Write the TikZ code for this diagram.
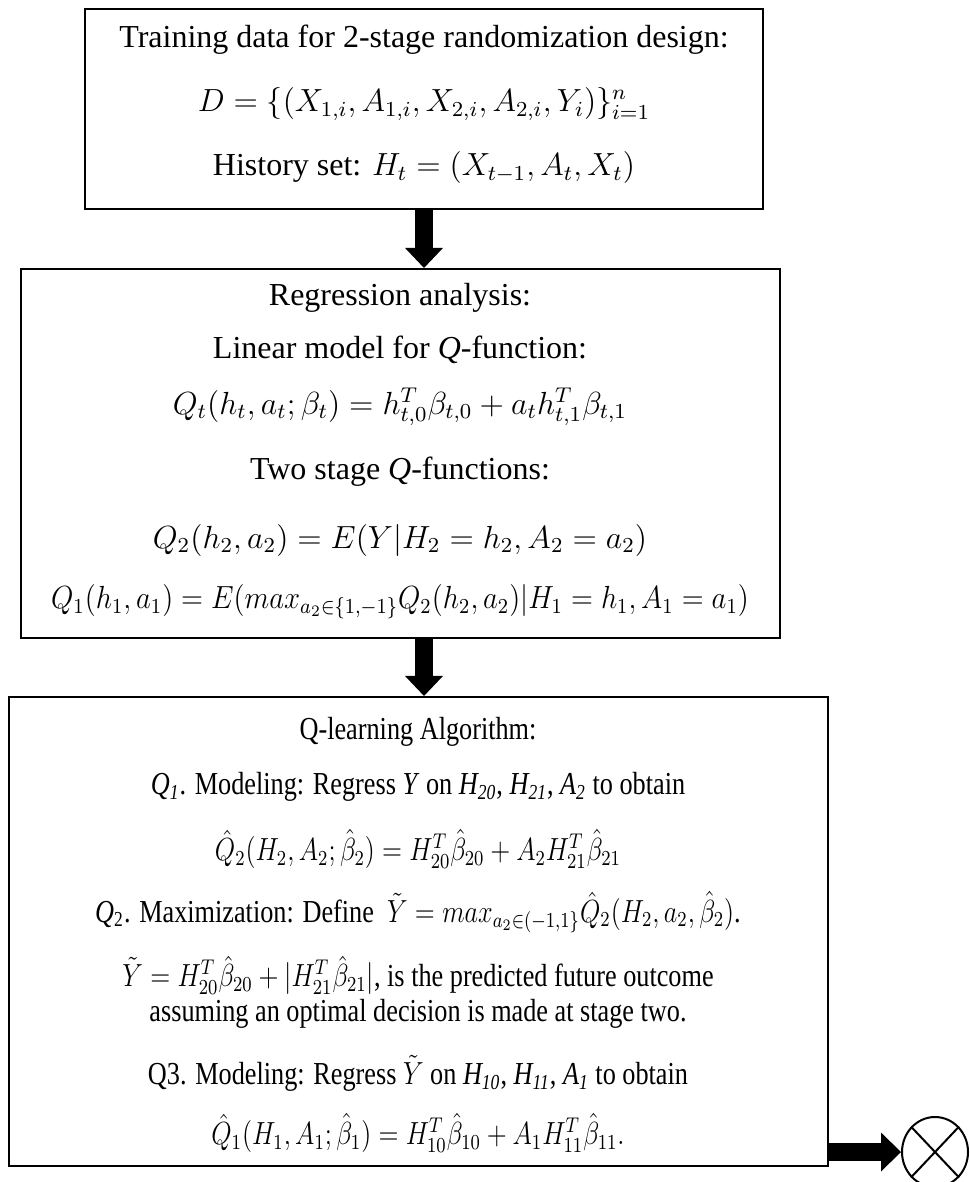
\documentclass[tikz,border=0pt,12pt]{standalone}
\usepackage{fontspec}
\setmainfont{Liberation Serif}
\usepackage{graphicx}
\usetikzlibrary{arrows.meta,shapes.geometric}
\begin{document}
\begin{tikzpicture}[x=0.375pt,y=-0.375pt,
  box/.style={draw=black,line width=0.75pt,inner sep=0pt,rectangle},
  txt/.style={inner sep=0pt,anchor=center},
  blockv/.style={line width=6.75pt,-{Triangle[width=14.25pt,length=7.5pt,line width=0pt]}},
  blockh/.style={line width=6.4pt,-{Triangle[width=14.6pt,length=7.5pt,line width=0pt]}},
  crossc/.style={draw=black,line width=0.75pt,ellipse,inner sep=0pt,minimum width=24.75pt,minimum height=26.25pt}]
\useasboundingbox (0,0) rectangle (969,1182);
\fill[white] (0,0) rectangle (969,1182);
% boxes
\node[box,minimum width=254.25pt,minimum height=75pt] (box1) at (424,109) {};
\node[box,minimum width=284.6pt,minimum height=138.4pt] (box2) at (400.5,453.5) {};
\node[box,minimum width=307.1pt,minimum height=175.9pt] (box3) at (418.5,931.5) {};
\node[crossc] (circ) at (935,1152) {};
\draw[line width=0.75pt] (circ.north west) -- (circ.south east);
\draw[line width=0.75pt] (circ.north east) -- (circ.south west);
% box 1 text
\node[txt] (a1) at (424,40) {Training data for 2-stage randomization design:};
\node[txt] (a2) at (424,104) {$D=\{\big(X_{1,i},A_{1,i},X_{2,i},A_{2,i},Y_i\big)\}_{i=1}^{n}$};
\node[txt] (a3) at (424,168) {History set: $H_t=(X_{t-1},A_t,X_t)$};
% box 2 text
\node[txt] (b1) at (400,298) {Regression analysis:};
\node[txt] (b2) at (400,350) {Linear model for \textit{Q}-function:};
\node[txt] (b3) at (400,407) {$Q_t(h_t,a_t;\beta_t)=h_{t,0}^{T}\beta_{t,0}+a_t h_{t,1}^{T}\beta_{t,1}$};
\node[txt] (b4) at (400,472) {Two stage \textit{Q}-functions:};
\node[txt] (b5) at (400,540) {$Q_2(h_2,a_2)=E(Y|H_2=h_2,A_2=a_2)$};
\node[txt] (b6) at (400,602) {\scalebox{0.9}[1]{$Q_1(h_1,a_1)=E(max_{a_2\in\{1,-1\}}Q_2(h_2,a_2)|H_1=h_1,A_1=a_1)$}};
% box 3 text
\node[txt] (c1) at (418,732) {\scalebox{0.82}[1]{Q-learning Algorithm:}};
\node[txt] (c2) at (418,787) {\scalebox{0.82}[1]{\textit{Q\textsubscript{1}}. Modeling: Regress \textit{Y} on \textit{H\textsubscript{20}}, \textit{H\textsubscript{21}}, \textit{A\textsubscript{2}} to obtain}};
\node[txt] (c3) at (418,849) {\scalebox{0.82}[1]{$\hat{Q}_2\big(H_2,A_2;\hat\beta_2\big)=H_{20}^{T}\hat\beta_{20}+A_2H_{21}^{T}\hat\beta_{21}$}};
\node[txt] (c4) at (418,912) {\scalebox{0.82}[1]{\textit{Q}\textsubscript{2}. Maximization: Define~ $\tilde{Y}=max_{a_2\in(-1,1\}}\hat{Q}_2\big(H_2,a_2,\hat\beta_2\big)$.}};
\node[txt,align=center] (c5) at (418,992) {\scalebox{0.82}[1]{$\tilde{Y}=H_{20}^{T}\hat\beta_{20}+|H_{21}^{T}\hat\beta_{21}|$, is the predicted future outcome}\\[-1.5pt]
  \scalebox{0.82}[1]{assuming an optimal decision is made at stage two.}};
\node[txt] (c7) at (418,1073) {\scalebox{0.82}[1]{Q3. Modeling: Regress $\tilde{Y}$ on \textit{H\textsubscript{10}}, \textit{H\textsubscript{11}}, \textit{A\textsubscript{1}} to obtain}};
\node[txt] (c8) at (418,1133) {\scalebox{0.82}[1]{$\hat{Q}_1\big(H_1,A_1;\hat\beta_1\big)=H_{10}^{T}\hat\beta_{10}+A_1H_{11}^{T}\hat\beta_{11}.$}};
% arrows
\draw[blockv] (box1.south) -- (box2.north -| box1.south);
\draw[blockv] (box2.south -| box1.south) -- (box3.north -| box1.south);
\draw[blockh] (circ.west -| box3.east) -- (circ.west);
\end{tikzpicture}
\end{document}
